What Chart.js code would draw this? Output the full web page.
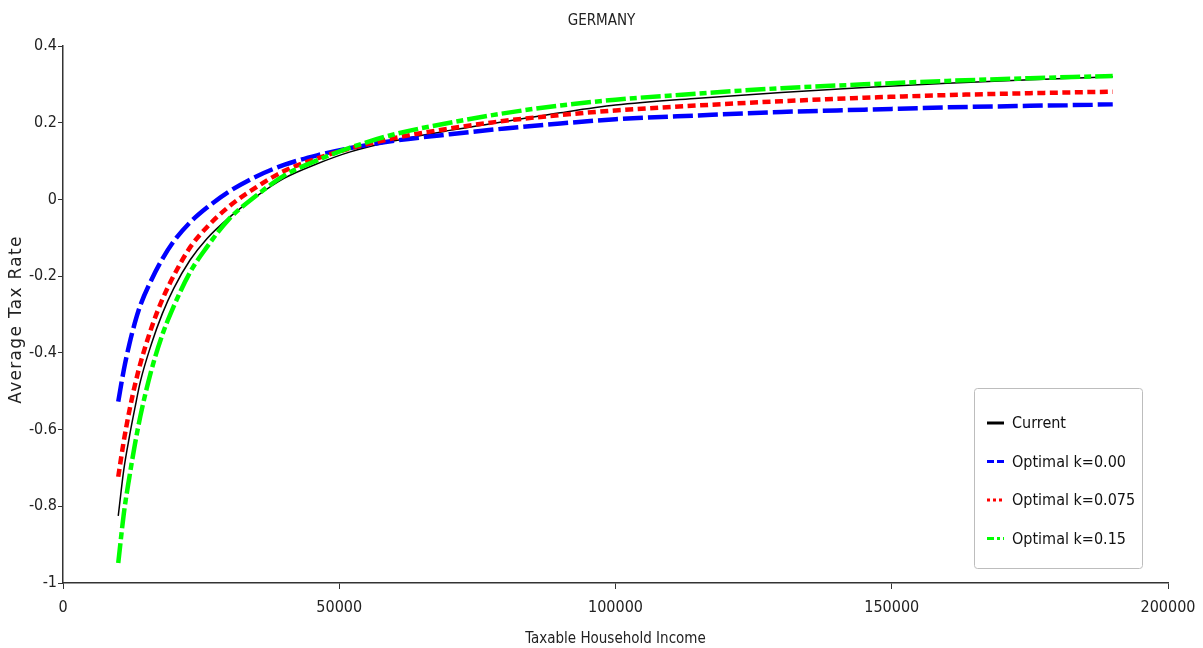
<!DOCTYPE html>
<html>
<head>
<meta charset="utf-8">
<script src="https://cdn.jsdelivr.net/npm/chart.js@4.4.1/dist/chart.umd.min.js"></script>
<style>
  html, body { margin: 0; padding: 0; background: #fff; }
  #wrap { width: 1203px; height: 648px; }
</style>
</head>
<body>
<div id="wrap"><canvas id="c" width="1203" height="648"></canvas></div>
<script>
const title = 'GERMANY';
const xTitle = 'Taxable Household Income';
const yTitle = 'Average Tax Rate';
const seriesLabels = ['Current', 'Optimal k=0.00', 'Optimal k=0.075', 'Optimal k=0.15'];

const income = [10000, 11000, 12000, 13000, 14000, 16000, 18000, 20000, 23000, 26000, 30000, 35000, 40000, 46000, 52000, 60000, 70000, 80000, 90000, 100000, 115000, 130000, 145000, 160000, 175000, 190000];

const current = [-0.825, -0.705, -0.62, -0.545, -0.475, -0.377, -0.297, -0.233, -0.158, -0.103, -0.048, 0.008, 0.055, 0.093, 0.124, 0.153, 0.18, 0.203, 0.226, 0.246, 0.264, 0.279, 0.292, 0.303, 0.312, 0.32];
const optK000 = [-0.527, -0.445, -0.378, -0.322, -0.276, -0.21, -0.155, -0.11, -0.06, -0.022, 0.02, 0.06, 0.09, 0.115, 0.134, 0.153, 0.17, 0.185, 0.198, 0.209, 0.219, 0.228, 0.234, 0.24, 0.244, 0.248];
const optK075 = [-0.723, -0.63, -0.552, -0.485, -0.428, -0.335, -0.26, -0.2, -0.125, -0.073, -0.019, 0.032, 0.074, 0.107, 0.133, 0.16, 0.185, 0.205, 0.22, 0.232, 0.245, 0.256, 0.265, 0.272, 0.277, 0.281];
const optK015 = [-0.948, -0.82, -0.725, -0.64, -0.565, -0.445, -0.352, -0.28, -0.19, -0.125, -0.052, 0.01, 0.062, 0.102, 0.135, 0.17, 0.2, 0.225, 0.245, 0.26, 0.276, 0.29, 0.3, 0.309, 0.316, 0.322];

const xTicks = [0, 50000, 100000, 150000, 200000];
const yTicks = [-1, -0.8, -0.6, -0.4, -0.2, 0, 0.2, 0.4];
const yTickLabels = ['-1', '-0.8', '-0.6', '-0.4', '-0.2', '0', '0.2', '0.4'];

const COND = '"DejaVu Sans Condensed", "Liberation Sans Narrow", "DejaVu Sans", sans-serif';

function pts(ys) { return income.map((x, i) => ({ x: x, y: ys[i] })); }

const textPlugin = {
  id: 'texts',
  afterDraw(chart) {
    const ctx = chart.ctx;
    const ca = chart.chartArea;
    ctx.save();
    ctx.fillStyle = '#222';
    ctx.font = '15px ' + COND;
    ctx.textAlign = 'center';
    ctx.textBaseline = 'middle';
    ctx.fillText(title, chart.width / 2, 21);
    ctx.translate(17, (ca.top + ca.bottom) / 2 + 5);
    ctx.rotate(-Math.PI / 2);
    ctx.font = '17px "DejaVu Sans", Verdana, sans-serif';
    if ('letterSpacing' in ctx) ctx.letterSpacing = '1.3px';
    ctx.fillStyle = '#222';
    ctx.fillText(yTitle, 0, 0);
    ctx.restore();
  },
  afterDatasetsDraw(chart) {
    const ctx = chart.ctx;
    const ds = chart.data.datasets;
    const bx = 974, by = 388, bw = 168, bh = 180;
    ctx.save();
    ctx.beginPath();
    if (ctx.roundRect) ctx.roundRect(bx + 0.5, by + 0.5, bw, bh, 3); else ctx.rect(bx + 0.5, by + 0.5, bw, bh);
    ctx.fillStyle = '#fff';
    ctx.fill();
    ctx.strokeStyle = '#bdbdbd';
    ctx.lineWidth = 1;
    ctx.stroke();
    ctx.font = '16px ' + COND;
    ctx.textBaseline = 'middle';
    ds.forEach((d, i) => {
      const y = by + 35 + i * 38.5;
      ctx.beginPath();
      ctx.strokeStyle = d.borderColor;
      ctx.lineWidth = 3;
      ctx.setLineDash(d.legendDash || []);
      ctx.moveTo(987, y);
      ctx.lineTo(1004, y);
      ctx.stroke();
      ctx.setLineDash([]);
      ctx.fillStyle = '#111';
      ctx.fillText(d.label, 1012, y + 1);
    });
    ctx.restore();
  }
};

new Chart(document.getElementById('c'), {
  type: 'line',
  data: {
    datasets: [
      { label: seriesLabels[0], data: pts(current), borderColor: '#000000', borderWidth: 1.5, order: 3, legendDash: [] },
      { label: seriesLabels[1], data: pts(optK000), borderColor: '#0000ff', borderWidth: 4.5, borderDash: [20, 5], order: 2, legendDash: [7, 3] },
      { label: seriesLabels[2], data: pts(optK075), borderColor: '#ff0000', borderWidth: 4.5, borderDash: [8, 4.5], order: 1, legendDash: [3, 3] },
      { label: seriesLabels[3], data: pts(optK015), borderColor: '#00ff00', borderWidth: 4.5, borderDash: [20, 4, 7, 4], order: 0, legendDash: [7, 3, 3, 3] }
    ]
  },
  options: {
    responsive: false,
    animation: false,
    devicePixelRatio: 1,
    layout: { padding: { left: 0, right: 35, top: 46, bottom: 0 } },
    elements: {
      point: { radius: 0 },
      line: { cubicInterpolationMode: 'monotone', fill: false }
    },
    plugins: {
      legend: { display: false },
      tooltip: { enabled: false },
      title: { display: false }
    },
    scales: {
      x: {
        type: 'linear', min: 0, max: 200000,
        afterBuildTicks(axis) { axis.ticks = xTicks.map(v => ({ value: v })); },
        afterFit(scale) { scale.height = 65; scale.paddingRight = 0; scale.paddingLeft = 0; },
        ticks: { color: '#222', font: { family: COND, size: 16 }, padding: 9, maxRotation: 0, callback: v => String(v) },
        grid: { display: true, drawOnChartArea: false, drawTicks: true, tickLength: 6, color: '#333', lineWidth: 1 },
        border: { display: true, color: '#333', width: 1.5 },
        title: { display: true, text: xTitle, color: '#222', font: { family: COND, size: 15 }, padding: { top: 2, bottom: 0 } }
      },
      y: {
        type: 'linear', min: -1, max: 0.4,
        afterBuildTicks(axis) { axis.ticks = yTicks.map(v => ({ value: v })); },
        afterFit(scale) { scale.width = 63; },
        ticks: { color: '#222', font: { family: COND, size: 16 }, padding: 1, callback: v => yTickLabels[yTicks.findIndex(t => Math.abs(t - v) < 1e-9)] },
        grid: { display: true, drawOnChartArea: false, drawTicks: true, tickLength: 5, color: '#333', lineWidth: 1 },
        border: { display: true, color: '#333', width: 1.5 },
        title: { display: false }
      }
    }
  },
  plugins: [textPlugin]
});
</script>
</body>
</html>
